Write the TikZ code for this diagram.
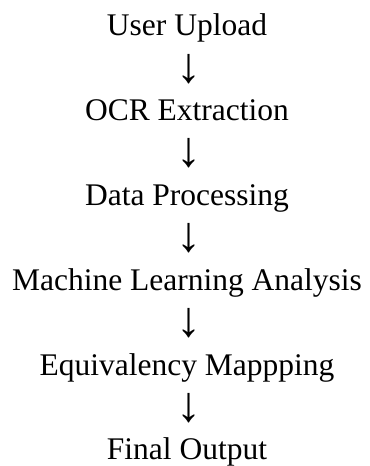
\documentclass[tikz,border=0pt]{standalone}
\usepackage{fontspec}
\setmainfont{Liberation Serif}
\begin{document}
\begin{tikzpicture}[x=1bp,y=1bp,
  lbl/.style={anchor=base,inner sep=0pt,font=\fontsize{31.5bp}{38bp}\selectfont},
  arr/.style={anchor=base,inner sep=0pt,font=\fontsize{50bp}{60bp}\selectfont}]
\useasboundingbox (0,0) rectangle (369,466);
\def\cx{187}
\def\ax{189}
\node[lbl] (t1) at (\cx,{466-35.7}) {User Upload};
\node[arr] (a1) at (\ax,{466-35.7-1*42.43-4}) {↓};
\node[lbl] (t2) at (\cx,{466-35.7-2*42.43}) {OCR Extraction};
\node[arr] (a2) at (\ax,{466-35.7-3*42.43-4}) {↓};
\node[lbl] (t3) at (\cx,{466-35.7-4*42.43}) {Data Processing};
\node[arr] (a3) at (\ax,{466-35.7-5*42.43-4}) {↓};
\node[lbl] (t4) at (\cx,{466-35.7-6*42.43}) {Machine Learning Analysis};
\node[arr] (a4) at (\ax,{466-35.7-7*42.43-4}) {↓};
\node[lbl] (t5) at (\cx,{466-35.7-8*42.43}) {Equivalency Mappping};
\node[arr] (a5) at (\ax,{466-35.7-9*42.43-4}) {↓};
\node[lbl] (t6) at (\cx,{466-35.7-10*42.43}) {Final Output};
\end{tikzpicture}
\end{document}
